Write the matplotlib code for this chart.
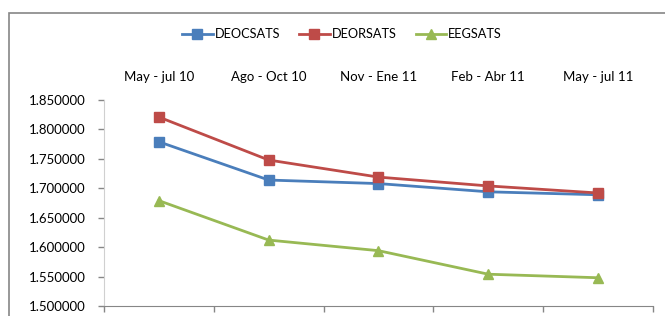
import matplotlib
matplotlib.use("Agg")
import matplotlib.pyplot as plt
from matplotlib.patches import Rectangle
from matplotlib.ticker import FormatStrFormatter

categories = ["May - jul 10", "Ago - Oct 10", "Nov - Ene 11", "Feb - Abr 11", "May - jul 11"]
deocsats = [1.779, 1.714, 1.708, 1.694, 1.689]
deorsats = [1.821, 1.748, 1.719, 1.704, 1.692]
eegsats = [1.679, 1.612, 1.594, 1.554, 1.548]
yticks = [1.50, 1.55, 1.60, 1.65, 1.70, 1.75, 1.80, 1.85]

plt.rcParams['font.family'] = ['Lato', 'DejaVu Sans']
W, H = 665, 316
fig = plt.figure(figsize=(W / 100, H / 100), dpi=100)

# outer chart border
fig.patches.append(Rectangle((8.5 / W, -0.1), 1.2, (H - 12.5) / H + 0.1,
                             transform=fig.transFigure, fill=False,
                             edgecolor='#868686', linewidth=1.2))

ax = fig.add_axes([104 / W, 10 / H, (653 - 104) / W, (306 - 100) / H])
x = list(range(len(categories)))
ax.plot(x, deocsats, color='#4A7EBB', lw=2.0, marker='s', ms=7, label='DEOCSATS')
ax.plot(x, deorsats, color='#BE4B48', lw=2.0, marker='s', ms=7, label='DEORSATS')
ax.plot(x, eegsats, color='#98B954', lw=2.0, marker='^', ms=7.5, label='EEGSATS')

ax.set_xlim(-0.5, len(categories) - 0.5)
ax.set_ylim(1.5, 1.85)
ax.set_yticks(yticks)
ax.yaxis.set_major_formatter(FormatStrFormatter('%.6f'))

ax.set_xticks(x)
ax.set_xticklabels(categories)
ax.set_xticks([i - 0.5 for i in range(len(categories) + 1)], minor=True)
ax.tick_params(axis='x', which='major', bottom=False, top=False,
               labelbottom=False, labeltop=True, length=0, pad=12.5,
               labelsize=9.5, labelcolor='black')
ax.tick_params(axis='x', which='minor', bottom=True, length=4,
               color='#868686', width=1)
ax.tick_params(axis='y', length=4, color='#868686', width=1, labelsize=9.5, pad=9)

for s in ['top', 'right']:
    ax.spines[s].set_visible(False)
ax.spines['bottom'].set_color('#868686')
ax.spines['left'].set_color('#D0D0D0')

leg = fig.legend(loc='center', bbox_to_anchor=(342 / W, 1 - 34 / H), ncol=3,
                 frameon=False, fontsize=9.2, handlelength=2.4, columnspacing=1.5,
                 handletextpad=0.15)

fig.savefig('out.png', dpi=100)
